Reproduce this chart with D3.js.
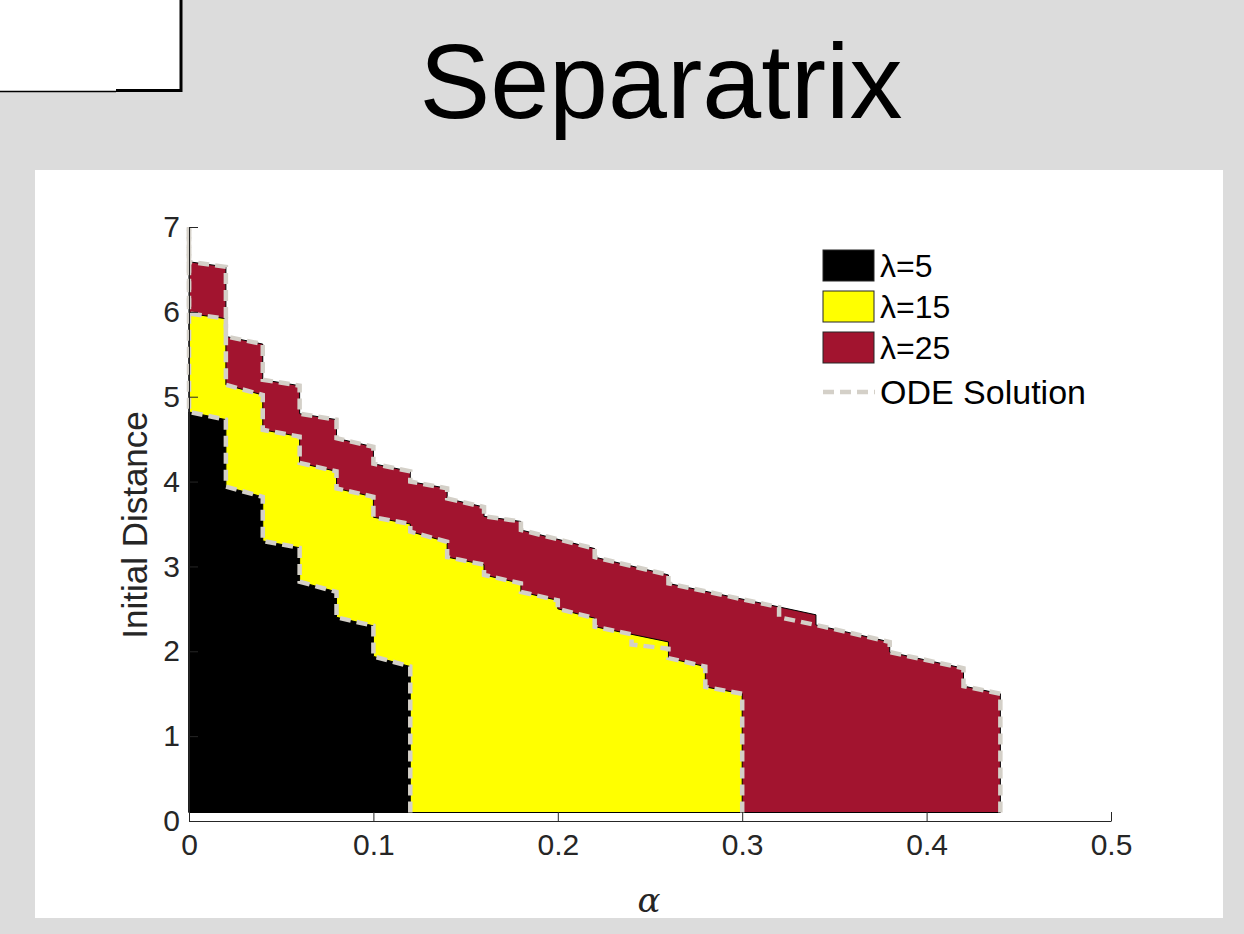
<!DOCTYPE html>
<html>
<head>
<meta charset="utf-8">
<script src="https://cdn.jsdelivr.net/npm/d3@7"></script>
<style>
  body { margin: 0; background: #dcdcdc; }
  svg { display: block; font-family: "Liberation Sans", Arial, Helvetica, sans-serif; }
</style>
</head>
<body>
<svg width="1244" height="934"></svg>
<script>
// each step: [alpha where step starts, y at start, y at end of step]
const steps5 = [[0, 4.82, 4.73], [0.02, 3.94, 3.82], [0.04, 3.30, 3.22], [0.06, 2.82, 2.70],
    [0.08, 2.40, 2.30], [0.10, 1.94, 1.82]]
const steps15 = [[0, 5.98, 5.92], [0.02, 5.14, 5.02], [0.04, 4.61, 4.53], [0.06, 4.22, 4.12],
    [0.08, 3.92, 3.82], [0.10, 3.58, 3.50], [0.12, 3.41, 3.29], [0.14, 3.11, 3.02],
    [0.16, 2.90, 2.80], [0.18, 2.70, 2.60], [0.20, 2.50, 2.39], [0.22, 2.29, 2.11],
    [0.26, 1.92, 1.82], [0.28, 1.58, 1.50]]
const steps25 = [[0, 6.59, 6.53], [0.02, 5.71, 5.62], [0.04, 5.20, 5.13], [0.06, 4.80, 4.73],
    [0.08, 4.51, 4.41], [0.10, 4.21, 4.12], [0.12, 4.00, 3.92], [0.14, 3.80, 3.70],
    [0.16, 3.59, 3.53], [0.18, 3.43, 3.21], [0.22, 3.11, 2.90], [0.26, 2.80, 2.43],
    [0.34, 2.31, 2.11], [0.38, 1.99, 1.80], [0.42, 1.59, 1.50]]

// ODE solution, where it differs from the simulated boundary
const ode5 = steps5
const ode15 = [[0, 5.98, 5.92], [0.02, 5.14, 5.02], [0.04, 4.61, 4.53], [0.06, 4.22, 4.12],
    [0.08, 3.92, 3.82], [0.10, 3.58, 3.50], [0.12, 3.41, 3.29], [0.14, 3.11, 3.02],
    [0.16, 2.90, 2.80], [0.18, 2.70, 2.60], [0.20, 2.50, 2.39], [0.22, 2.29, 2.20],
    [0.24, 2.08, 2.03], [0.26, 1.92, 1.82], [0.28, 1.58, 1.50]]
const ode25 = [[0, 6.59, 6.53], [0.02, 5.71, 5.62], [0.04, 5.20, 5.13], [0.06, 4.80, 4.73],
    [0.08, 4.51, 4.41], [0.10, 4.21, 4.12], [0.12, 4.00, 3.92], [0.14, 3.80, 3.70],
    [0.16, 3.59, 3.53], [0.18, 3.43, 3.21], [0.22, 3.11, 2.90], [0.26, 2.80, 2.52],
    [0.32, 2.40, 2.31], [0.34, 2.31, 2.11], [0.38, 1.99, 1.80], [0.42, 1.59, 1.50]]

const lambdas = ['\u03bb=5', '\u03bb=15', '\u03bb=25']
const alphaEnds = [0.12, 0.30, 0.44]
const bottomY = 0.1
const topY = 7
const xTicks = [0, 0.1, 0.2, 0.3, 0.4, 0.5]
const yTicks = [0, 1, 2, 3, 4, 5, 6, 7]

const colors = ['#000000', '#ffff00', '#a2142f']
const odeColor = '#d4d0c8'

const svg = d3.select('svg')

// white panel behind the axes
svg.append('rect').attr('x', 35).attr('y', 170).attr('width', 1188).attr('height', 748).attr('fill', '#fff')

// leftover box in the corner
svg.append('rect').attr('x', 0).attr('y', 0).attr('width', 181).attr('height', 91).attr('fill', '#fff')
svg.append('line').attr('x1', 181).attr('y1', 0).attr('x2', 181).attr('y2', 92)
    .attr('stroke', '#000').attr('stroke-width', 3)
svg.append('line').attr('x1', 0).attr('y1', 91.5).attr('x2', 116).attr('y2', 91.5)
    .attr('stroke', '#000').attr('stroke-width', 1.5)
svg.append('line').attr('x1', 116).attr('y1', 90.5).attr('x2', 182).attr('y2', 90.5)
    .attr('stroke', '#000').attr('stroke-width', 3)

svg.append('text').attr('x', 661).attr('y', 118).attr('text-anchor', 'middle')
    .attr('font-size', 106).attr('fill', '#000').text('Separatrix')

const x = d3.scaleLinear().domain([0, 0.5]).range([189, 1111])
const y = d3.scaleLinear().domain([0, 7]).range([821, 227])

function topPoints(steps, end) {
    const pts = []
    steps.forEach((s, i) => {
        const next = i < steps.length - 1 ? steps[i + 1][0] : end
        pts.push([s[0], s[1]])
        pts.push([next, s[2]])
    })
    return pts
}

const line = d3.line().x(d => x(d[0])).y(d => y(d[1]))

const allSteps = [steps5, steps15, steps25]
const allOde = [ode5, ode15, ode25]

// patches, largest first
const plot = svg.append('g')
for (let i = 2; i >= 0; i--) {
    const pts = [[0, bottomY]].concat(topPoints(allSteps[i], alphaEnds[i]), [[alphaEnds[i], bottomY]])
    plot.append('path')
        .attr('d', line(pts) + 'Z')
        .attr('fill', colors[i])
        .attr('stroke', '#000')
        .attr('stroke-width', 1)
}

// ODE solution lines, traced from the bottom right up to the top of the axis
for (let i = 2; i >= 0; i--) {
    const pts = [[alphaEnds[i], bottomY]].concat(topPoints(allOde[i], alphaEnds[i]).reverse(), [[0, topY]])
    plot.append('path')
        .attr('d', line(pts))
        .attr('fill', 'none')
        .attr('stroke', odeColor)
        .attr('stroke-width', 4.5)
        .attr('stroke-dasharray', '11,6')
}

// axes, MATLAB style with inward ticks
const xAxis = svg.append('g').attr('transform', 'translate(0,821)')
    .call(d3.axisBottom(x).tickValues(xTicks).tickFormat(d3.format('')).tickSizeInner(-9).tickSizeOuter(0).tickPadding(13))
const yAxis = svg.append('g').attr('transform', 'translate(189,0)')
    .call(d3.axisLeft(y).tickValues(yTicks).tickFormat(d3.format('d')).tickSizeInner(-9).tickSizeOuter(0).tickPadding(9))

;[xAxis, yAxis].forEach(ax => {
    ax.select('.domain').attr('stroke', '#262626')
    ax.selectAll('.tick line').attr('stroke', '#262626')
    ax.selectAll('.tick text').attr('fill', '#262626')
        .style('font-size', '30px')
        .style('font-family', '"Liberation Sans", Arial, sans-serif')
})

svg.append('text')
    .attr('transform', 'translate(147,525) rotate(-90)')
    .attr('text-anchor', 'middle')
    .attr('font-size', 35)
    .attr('fill', '#262626')
    .text('Initial Distance')

svg.append('text').attr('x', 649).attr('y', 912).attr('text-anchor', 'middle')
    .style('font-family', '"DejaVu Serif", serif')
    .style('font-style', 'italic').style('font-size', '34px').attr('fill', '#262626')
    .text('\u03b1')

// legend
const legend = svg.append('g').attr('transform', 'translate(823,250)')
lambdas.forEach((name, i) => {
    legend.append('rect')
        .attr('x', 0).attr('y', i * 41).attr('width', 51).attr('height', 31)
        .attr('fill', colors[i]).attr('stroke', '#262626').attr('stroke-width', 1)
    legend.append('text')
        .attr('x', 57).attr('y', i * 41 + 16).attr('dy', '0.35em')
        .attr('font-size', 32).attr('fill', '#000').text(name)
})
legend.append('line')
    .attr('x1', 0).attr('x2', 52).attr('y1', 142).attr('y2', 142)
    .attr('stroke', odeColor).attr('stroke-width', 4.5).attr('stroke-dasharray', '11,6')
legend.append('text')
    .attr('x', 57).attr('y', 142).attr('dy', '0.35em')
    .attr('font-size', 34).attr('fill', '#000').text('ODE Solution')
</script>
</body>
</html>
